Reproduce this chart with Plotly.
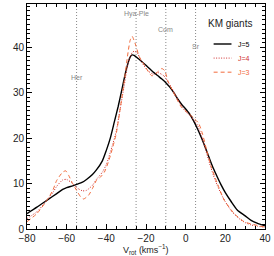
import plotly.graph_objects as go

# ---- data ----
v_j5 = [-80, -75, -70, -65, -62, -60, -57, -55, -52, -50, -47, -45, -42, -40, -38, -36, -34, -32, -30, -28, -27,
        -26, -24, -22, -20, -18, -16, -14, -12, -10, -8, -6, -4, -2, 0, 2, 4, 6, 8, 10, 12, 14, 16, 18, 20, 23, 26,
        30, 33, 36, 40]
j5 = [3.4, 4.8, 6.3, 7.8, 8.7, 9.1, 9.5, 9.8, 10.3, 10.9, 12.0, 13.0, 15.0, 17.3, 20.0, 23.5, 27.0, 31.0, 35.0,
      37.8, 38.3, 38.2, 37.5, 36.8, 36.0, 35.2, 34.4, 33.7, 33.0, 32.2, 31.2, 30.0, 28.6, 27.4, 26.4, 25.3, 23.8,
      22.0, 20.0, 17.8, 15.5, 13.3, 11.4, 9.6, 8.0, 6.0, 4.2, 2.9, 1.9, 1.3, 0.7]

v_j4 = [-80, -75, -70, -67, -65, -62, -60, -57, -55, -52, -50, -47, -45, -42, -40, -37, -35, -33, -31, -29, -27,
        -26, -24.5, -22, -19, -16, -14, -11, -9, -7, -4, -2, 0, 2, 4, 6, 8, 10, 12, 14, 16, 18, 20, 23, 26, 30, 33,
        36, 40]
j4 = [2.3, 3.8, 6.3, 8.0, 9.4, 10.8, 10.9, 10.0, 9.1, 8.4, 8.5, 9.6, 10.9, 12.5, 14.2, 18.3, 21.5, 26.5, 31.5,
      36.5, 38.8, 39.1, 38.8, 36.6, 34.8, 34.0, 34.4, 33.7, 32.4, 31.0, 28.6, 27.0, 25.8, 25.0, 24.0, 22.8, 20.5,
      17.5, 14.5, 11.8, 9.5, 7.6, 6.0, 4.0, 2.6, 1.4, 0.9, 0.6, 0.4]

v_j3 = [-80, -75, -70, -67, -65, -62, -60.5, -59, -57, -55, -53, -51.5, -49, -47, -45, -43, -41, -39, -37, -35,
        -33, -31, -29, -28, -27, -25, -23.5, -21, -18.5, -17, -14.5, -12, -10.5, -9, -7, -4.5, -2, 0, 2, 4.5, 6.5,
        8.5, 10.5, 13, 16, 19.5, 24.5, 29.5, 36, 40]
j3 = [1.6, 3.4, 6.3, 8.5, 10.7, 12.5, 12.8, 11.8, 10.0, 8.5, 7.1, 6.6, 7.4, 8.9, 10.7, 11.4, 12.5, 14.7, 17.6,
      21.0, 26.5, 32.5, 39.0, 41.5, 42.4, 40.2, 38.0, 36.2, 34.4, 33.7, 34.4, 35.3, 34.8, 32.6, 30.8, 28.6, 26.7,
      26.0, 25.3, 24.2, 23.3, 20.9, 17.5, 13.6, 10.0, 6.3, 3.4, 1.6, 0.8, 0.4]

groups = ["Her", "Hya-Ple", "Com", "Sr"]
group_v = [-55, -25, -10, 5]
group_label_y = [33.4, 47.2, 43.9, 40.2]

series_names = ["J=5", "J=4", "J=3"]
x_ticks = [-80, -60, -40, -20, 0, 20, 40]
y_ticks = [0, 10, 20, 30, 40]

# ---- styles ----
colors = ["#000000", "#d03030", "#f26a3a"]
dashes = ["solid", "1px,1.5px", "4px,3px"]
widths = [1.4, 1.0, 1.0]
FONT = "Liberation Sans"

fig = go.Figure()
for vx, vy, nm, c, d, w in zip([v_j5, v_j4, v_j3], [j5, j4, j3], series_names, colors, dashes, widths):
    fig.add_trace(go.Scatter(x=vx, y=vy, mode="lines", name=nm,
                             line=dict(color=c, dash=d, width=w, shape="spline", smoothing=0.6),
                             showlegend=False))

# group marker lines and labels
for g, gv, gy in zip(groups, group_v, group_label_y):
    fig.add_shape(type="line", x0=gv, x1=gv, y0=0, y1=1, xref="x", yref="paper",
                  line=dict(color="#888888", width=1, dash="1px,2px"), layer="below")
    fig.add_annotation(x=gv, y=gy, text=g, showarrow=False, xref="x", yref="y",
                       font=dict(family=FONT, size=7, color="#888888"), xanchor="center", yanchor="middle")

# manual legend
fig.add_annotation(x=22.6, y=45.2, text="KM giants", showarrow=False, xref="x", yref="y",
                   font=dict(family=FONT, size=10, color="#222222"), xanchor="center", yanchor="middle")
leg_y = [40.7, 37.6, 34.5]
for nm, c, d, w, ly in zip(series_names, colors, dashes, widths, leg_y):
    fig.add_shape(type="line", x0=14.1, x1=23.1, y0=ly, y1=ly, xref="x", yref="y",
                  line=dict(color=c, dash=d, width=w))
    fig.add_annotation(x=25.6, y=ly, text=nm, showarrow=False, xref="x", yref="y",
                       font=dict(family=FONT, size=7, color=c), xanchor="left", yanchor="middle")

# x-axis title
fig.add_annotation(x=0.5, y=-0.093, xref="paper", yref="paper", showarrow=False,
                   text="V<sub>rot</sub> (kms<sup>−1</sup>)",
                   font=dict(family=FONT, size=9, color="#222222"), xanchor="center", yanchor="middle")

axis_common = dict(showgrid=False, zeroline=False, showline=True, linecolor="#000000", linewidth=1,
                   mirror="allticks", ticks="inside", tickcolor="#000000", ticklen=5, tickwidth=1,
                   tickfont=dict(family=FONT, size=10, color="#222222"))

fig.update_layout(
    width=274, height=256,
    margin=dict(l=27, r=6, t=3, b=27),
    paper_bgcolor="white", plot_bgcolor="white",
    xaxis=dict(range=[-80, 40], tickvals=x_ticks,
               minor=dict(dtick=5, tick0=0, ticks="inside", ticklen=3, tickcolor="#000000"),
               **axis_common),
    yaxis=dict(range=[0, 49.5], tickvals=y_ticks,
               minor=dict(dtick=1, tick0=0, ticks="inside", ticklen=3, tickcolor="#000000"),
               **axis_common),
)

fig.write_html("out.html", config={"displayModeBar": False},
               post_script="document.body.style.margin='0';document.body.style.padding='0';")
